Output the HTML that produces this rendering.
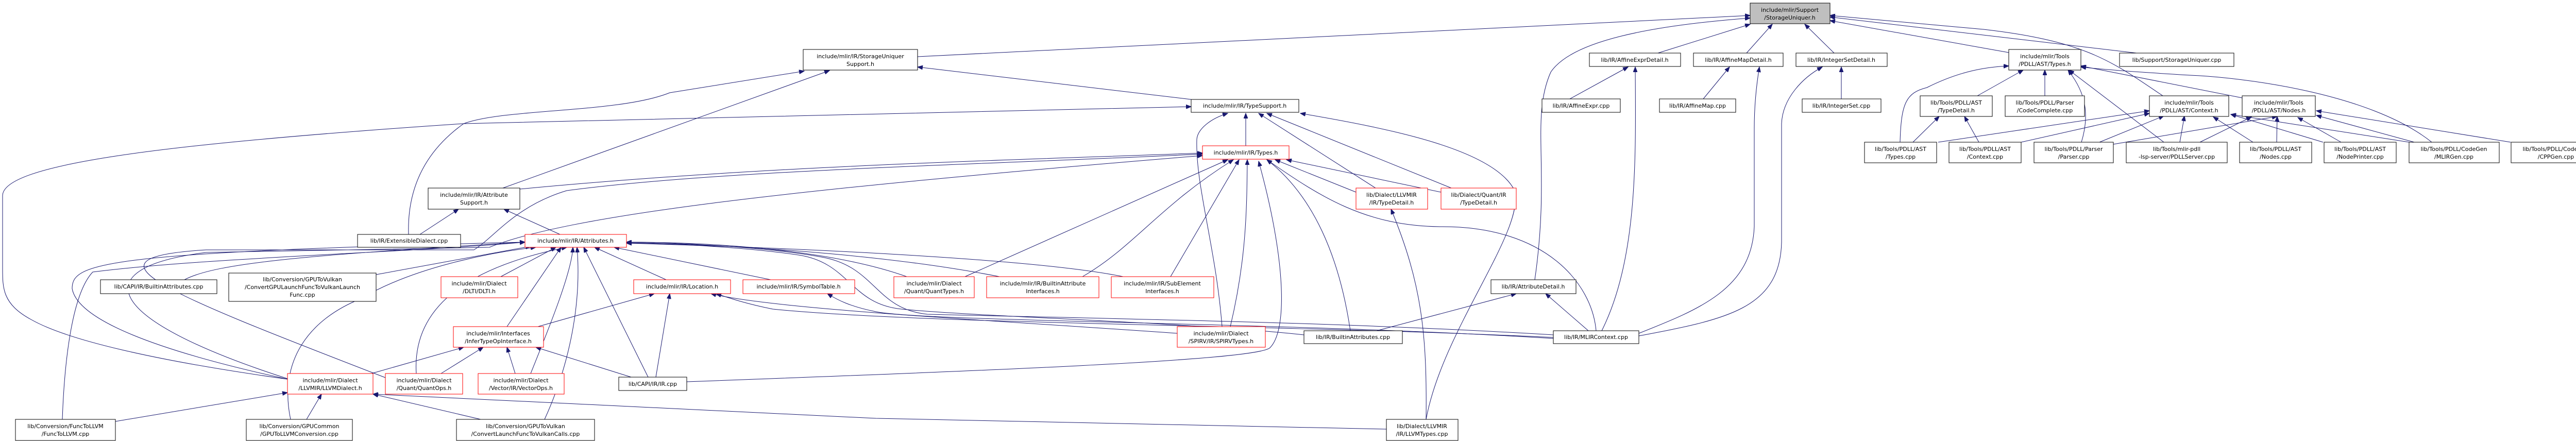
<!DOCTYPE html>
<html><head><meta charset="utf-8"><style>
html,body{margin:0;padding:0;background:#fff;}
svg{display:block;}
text{font-family:"DejaVu Sans","Liberation Sans",sans-serif;font-size:11px;fill:#000;text-anchor:middle;}
.n{fill:#fff;stroke:#000;stroke-width:1;}
.r{fill:#fff;stroke:#ff0000;stroke-width:1;}
.e{fill:none;stroke:#191970;stroke-width:1;marker-end:url(#a);}
</style></head><body>
<svg width="5054" height="856" viewBox="0 0 5054 856" xmlns="http://www.w3.org/2000/svg">
<defs><marker id="a" markerUnits="userSpaceOnUse" markerWidth="11" markerHeight="8" refX="10" refY="4" orient="auto"><path d="M0,0 L10,4 L0,8 z" fill="#191970" stroke="#191970"/></marker></defs>
<g>
<path class="e" d="M1781,110 L3397,30"/>
<path class="e" d="M2979,543 C3010,330 2970,230 3010,140 C3050,80 3200,50 3397,35"/>
<path class="e" d="M3218,103 L3397,47"/>
<path class="e" d="M3390,103 L3440,47"/>
<path class="e" d="M3560,103 L3503,47"/>
<path class="e" d="M3899,102 L3552,40"/>
<path class="e" d="M4147,103 L3552,33"/>
<path class="e" d="M4198,186 C4100,120 4050,80 3850,57 L3552,30"/>
<path class="e" d="M3047,192 L3160,130"/>
<path class="e" d="M3109,642 C3180,500 3175,300 3174,130"/>
<path class="e" d="M3306,192 L3357,130"/>
<path class="e" d="M3181,647 C3300,600 3400,560 3405,440 L3405,250 C3405,200 3410,160 3415,130"/>
<path class="e" d="M3574,192 L3574,130"/>
<path class="e" d="M3181,652 C3350,620 3455,600 3458,470 L3458,240 C3460,190 3500,150 3537,130"/>
<path class="e" d="M793,455 C790,360 830,290 900,240 C980,210 1200,220 1300,180 L1561,138"/>
<path class="e" d="M976,365 L1610,137"/>
<path class="e" d="M2312,193 L1781,130"/>
<path class="e" d="M558,736 C300,700 130,660 60,620 C5,590 5,560 5,520 L5,380 C5,320 300,280 900,240 L2312,207"/>
<path class="e" d="M2418,283 L2418,220"/>
<path class="e" d="M2372,634 C2360,480 2320,360 2323,270 C2325,250 2350,230 2383,220"/>
<path class="e" d="M2670,365 L2443,220"/>
<path class="e" d="M2817,365 L2459,220"/>
<path class="e" d="M2768,814 C2800,640 2960,450 2940,370 C2900,290 2700,250 2524,220"/>
<path class="e" d="M1009,367 C1500,320 2000,310 2334,297"/>
<path class="e" d="M748,733 C300,560 150,500 400,485 L920,485 C960,460 1000,400 1100,370 C1400,330 1900,320 2334,299"/>
<path class="e" d="M558,735 C200,620 160,520 400,490 L950,480 C1100,420 1500,370 2334,302"/>
<path class="e" d="M1873,537 L2383,310"/>
<path class="e" d="M2101,537 C2200,480 2250,400 2394,310"/>
<path class="e" d="M2272,537 L2405,310"/>
<path class="e" d="M2388,634 C2420,500 2420,400 2421,310"/>
<path class="e" d="M1333,741 C1900,720 2440,700 2465,675 C2500,640 2495,500 2443,313"/>
<path class="e" d="M2621,642 C2600,500 2550,380 2459,310"/>
<path class="e" d="M2632,373 L2475,310"/>
<path class="e" d="M2797,373 L2497,310"/>
<path class="e" d="M3098,642 C3090,550 3000,440 2800,440 C2650,440 2560,380 2459,310"/>
<path class="e" d="M815,455 L890,406"/>
<path class="e" d="M1087,455 L978,406"/>
<path class="e" d="M358,543 C420,510 600,495 1019,470"/>
<path class="e" d="M730,533 L1030,478"/>
<path class="e" d="M972,537 L1079,480"/>
<path class="e" d="M984,634 L1089,480"/>
<path class="e" d="M1030,725 C1060,650 1110,530 1112,480"/>
<path class="e" d="M808,725 C800,600 900,520 1100,480"/>
<path class="e" d="M1258,732 L1133,480"/>
<path class="e" d="M1293,543 L1154,480"/>
<path class="e" d="M1496,543 L1192,480"/>
<path class="e" d="M558,736 C300,680 150,620 140,560 C140,510 200,490 1019,470"/>
<path class="e" d="M121,814 C125,700 140,570 180,528 C400,500 800,490 1019,470"/>
<path class="e" d="M564,814 C540,700 600,620 700,580 C800,520 950,490 1040,480"/>
<path class="e" d="M1057,814 C1100,720 1130,600 1120,480"/>
<path class="e" d="M1760,537 C1600,480 1350,470 1216,470"/>
<path class="e" d="M1940,537 C1700,490 1400,475 1216,471"/>
<path class="e" d="M2180,537 C2000,500 1500,480 1216,472"/>
<path class="e" d="M3015,650 C2600,625 2200,620 1800,610 C1700,600 1700,520 1600,500 C1500,480 1300,470 1216,470"/>
<path class="e" d="M2531,650 C2300,625 1900,615 1750,600 C1650,590 1650,510 1550,495 C1450,480 1300,472 1216,472"/>
<path class="e" d="M2285,647 C1900,620 1500,600 1380,570"/>
<path class="e" d="M3015,655 C2500,630 1800,630 1500,600 C1450,590 1420,580 1390,570"/>
<path class="e" d="M3015,657 C2500,625 1800,625 1700,605 C1650,595 1625,582 1606,570"/>
<path class="e" d="M1044,634 L1270,570"/>
<path class="e" d="M1273,732 L1300,570"/>
<path class="e" d="M721,725 L900,674"/>
<path class="e" d="M856,725 L938,674"/>
<path class="e" d="M1000,725 L984,674"/>
<path class="e" d="M1225,732 L1040,674"/>
<path class="e" d="M224,818 L558,762"/>
<path class="e" d="M595,814 L624,765"/>
<path class="e" d="M933,814 L724,765"/>
<path class="e" d="M2691,833 L1700,812 L724,765"/>
<path class="e" d="M2768,814 C2770,650 2760,550 2700,406"/>
<path class="e" d="M2672,642 L2943,570"/>
<path class="e" d="M3083,642 L3000,570"/>
<path class="e" d="M3688,276 C3690,200 3700,180 3740,170 C3800,140 3850,130 3899,128"/>
<path class="e" d="M3838,186 L3927,136"/>
<path class="e" d="M3969,186 L3969,136"/>
<path class="e" d="M4040,276 C4060,210 4040,170 4014,136"/>
<path class="e" d="M4200,276 L4016,136"/>
<path class="e" d="M4352,190 L4039,128"/>
<path class="e" d="M4720,276 C4600,180 4350,150 4250,146 C4150,140 4080,135 4039,130"/>
<path class="e" d="M3762,276 L4172,215"/>
<path class="e" d="M3923,276 L4172,220"/>
<path class="e" d="M4075,276 L4200,225"/>
<path class="e" d="M4231,276 L4240,225"/>
<path class="e" d="M4373,276 L4296,227"/>
<path class="e" d="M4509,276 L4330,222"/>
<path class="e" d="M4676,276 L4330,222"/>
<path class="e" d="M4102,280 L4420,226"/>
<path class="e" d="M4270,276 L4370,227"/>
<path class="e" d="M4419,276 L4420,226"/>
<path class="e" d="M4544,276 L4460,228"/>
<path class="e" d="M4686,276 L4496,224"/>
<path class="e" d="M4873,276 L4496,215"/>
<path class="e" d="M3713,276 L3764,226"/>
<path class="e" d="M3841,276 L3813,226"/>
</g>
<g>
<rect x="3397" y="6" width="155" height="40" fill="#bfbfbf" stroke="#000"/><text x="3474" y="23">include/mlir/Support</text><text x="3474" y="38">/StorageUniquer.h</text>
<rect class="n" x="1559" y="96" width="222" height="40"/><text x="1670" y="113">include/mlir/IR/StorageUniquer</text><text x="1670" y="128">Support.h</text>
<rect class="n" x="831" y="365" width="178" height="41"/><text x="920" y="382">include/mlir/IR/Attribute</text><text x="920" y="397">Support.h</text>
<rect class="n" x="694" y="455" width="200" height="25"/><text x="794" y="471">lib/IR/ExtensibleDialect.cpp</text>
<rect class="r" x="1019" y="455" width="197" height="25"/><text x="1117" y="471">include/mlir/IR/Attributes.h</text>
<rect class="n" x="195" y="543" width="226" height="27"/><text x="308" y="560">lib/CAPI/IR/BuiltinAttributes.cpp</text>
<rect class="n" x="444" y="530" width="286" height="55"/><text x="587" y="546">lib/Conversion/GPUToVulkan</text><text x="587" y="561">/ConvertGPULaunchFuncToVulkanLaunch</text><text x="587" y="576">Func.cpp</text>
<rect class="r" x="856" y="537" width="149" height="41"/><text x="930" y="554">include/mlir/Dialect</text><text x="930" y="569">/DLTI/DLTI.h</text>
<rect class="r" x="1230" y="543" width="188" height="27"/><text x="1324" y="560">include/mlir/IR/Location.h</text>
<rect class="r" x="1442" y="543" width="217" height="27"/><text x="1550" y="560">include/mlir/IR/SymbolTable.h</text>
<rect class="r" x="880" y="634" width="175" height="40"/><text x="967" y="651">include/mlir/Interfaces</text><text x="967" y="666">/InferTypeOpInterface.h</text>
<rect class="r" x="558" y="725" width="166" height="40"/><text x="641" y="742">include/mlir/Dialect</text><text x="641" y="757">/LLVMIR/LLVMDialect.h</text>
<rect class="r" x="748" y="725" width="150" height="40"/><text x="823" y="742">include/mlir/Dialect</text><text x="823" y="757">/Quant/QuantOps.h</text>
<rect class="r" x="928" y="725" width="167" height="40"/><text x="1011" y="742">include/mlir/Dialect</text><text x="1011" y="757">/Vector/IR/VectorOps.h</text>
<rect class="n" x="1201" y="732" width="132" height="26"/><text x="1267" y="749">lib/CAPI/IR/IR.cpp</text>
<rect class="n" x="30" y="814" width="194" height="41"/><text x="127" y="831">lib/Conversion/FuncToLLVM</text><text x="127" y="846">/FuncToLLVM.cpp</text>
<rect class="n" x="478" y="814" width="206" height="41"/><text x="581" y="831">lib/Conversion/GPUCommon</text><text x="581" y="846">/GPUToLLVMConversion.cpp</text>
<rect class="n" x="886" y="814" width="268" height="41"/><text x="1020" y="831">lib/Conversion/GPUToVulkan</text><text x="1020" y="846">/ConvertLaunchFuncToVulkanCalls.cpp</text>
<rect class="n" x="2312" y="193" width="209" height="25"/><text x="2416" y="209">include/mlir/IR/TypeSupport.h</text>
<rect class="r" x="2334" y="283" width="168" height="26"/><text x="2418" y="300">include/mlir/IR/Types.h</text>
<rect class="r" x="2632" y="365" width="139" height="41"/><text x="2701" y="382">lib/Dialect/LLVMIR</text><text x="2701" y="397">/IR/TypeDetail.h</text>
<rect class="r" x="2797" y="365" width="146" height="41"/><text x="2870" y="382">lib/Dialect/Quant/IR</text><text x="2870" y="397">/TypeDetail.h</text>
<rect class="r" x="1735" y="537" width="156" height="41"/><text x="1813" y="554">include/mlir/Dialect</text><text x="1813" y="569">/Quant/QuantTypes.h</text>
<rect class="r" x="1915" y="537" width="218" height="41"/><text x="2024" y="554">include/mlir/IR/BuiltinAttribute</text><text x="2024" y="569">Interfaces.h</text>
<rect class="r" x="2157" y="537" width="199" height="41"/><text x="2256" y="554">include/mlir/IR/SubElement</text><text x="2256" y="569">Interfaces.h</text>
<rect class="r" x="2285" y="634" width="171" height="40"/><text x="2370" y="651">include/mlir/Dialect</text><text x="2370" y="666">/SPIRV/IR/SPIRVTypes.h</text>
<rect class="n" x="2531" y="642" width="191" height="25"/><text x="2626" y="658">lib/IR/BuiltinAttributes.cpp</text>
<rect class="n" x="2894" y="543" width="165" height="27"/><text x="2976" y="560">lib/IR/AttributeDetail.h</text>
<rect class="n" x="3015" y="642" width="166" height="25"/><text x="3098" y="658">lib/IR/MLIRContext.cpp</text>
<rect class="n" x="2691" y="814" width="139" height="41"/><text x="2760" y="831">lib/Dialect/LLVMIR</text><text x="2760" y="846">/IR/LLVMTypes.cpp</text>
<rect class="n" x="3085" y="103" width="177" height="26"/><text x="3173" y="120">lib/IR/AffineExprDetail.h</text>
<rect class="n" x="3287" y="103" width="174" height="26"/><text x="3374" y="120">lib/IR/AffineMapDetail.h</text>
<rect class="n" x="2993" y="192" width="152" height="26"/><text x="3069" y="209">lib/IR/AffineExpr.cpp</text>
<rect class="n" x="3221" y="192" width="148" height="26"/><text x="3295" y="209">lib/IR/AffineMap.cpp</text>
<rect class="n" x="3486" y="103" width="177" height="26"/><text x="3574" y="120">lib/IR/IntegerSetDetail.h</text>
<rect class="n" x="3498" y="192" width="153" height="26"/><text x="3574" y="209">lib/IR/IntegerSet.cpp</text>
<rect class="n" x="3899" y="96" width="140" height="40"/><text x="3969" y="113">include/mlir/Tools</text><text x="3969" y="128">/PDLL/AST/Types.h</text>
<rect class="n" x="4114" y="103" width="222" height="26"/><text x="4225" y="120">lib/Support/StorageUniquer.cpp</text>
<rect class="n" x="3727" y="186" width="140" height="40"/><text x="3797" y="203">lib/Tools/PDLL/AST</text><text x="3797" y="218">/TypeDetail.h</text>
<rect class="n" x="3892" y="186" width="154" height="40"/><text x="3969" y="203">lib/Tools/PDLL/Parser</text><text x="3969" y="218">/CodeComplete.cpp</text>
<rect class="n" x="4172" y="186" width="154" height="40"/><text x="4249" y="203">include/mlir/Tools</text><text x="4249" y="218">/PDLL/AST/Context.h</text>
<rect class="n" x="4352" y="186" width="142" height="40"/><text x="4423" y="203">include/mlir/Tools</text><text x="4423" y="218">/PDLL/AST/Nodes.h</text>
<rect class="n" x="3619" y="276" width="140" height="40"/><text x="3689" y="293">lib/Tools/PDLL/AST</text><text x="3689" y="308">/Types.cpp</text>
<rect class="n" x="3783" y="276" width="140" height="40"/><text x="3853" y="293">lib/Tools/PDLL/AST</text><text x="3853" y="308">/Context.cpp</text>
<rect class="n" x="3948" y="276" width="154" height="40"/><text x="4025" y="293">lib/Tools/PDLL/Parser</text><text x="4025" y="308">/Parser.cpp</text>
<rect class="n" x="4127" y="276" width="196" height="40"/><text x="4225" y="293">lib/Tools/mlir-pdll</text><text x="4225" y="308">-lsp-server/PDLLServer.cpp</text>
<rect class="n" x="4347" y="276" width="140" height="40"/><text x="4417" y="293">lib/Tools/PDLL/AST</text><text x="4417" y="308">/Nodes.cpp</text>
<rect class="n" x="4511" y="276" width="140" height="40"/><text x="4581" y="293">lib/Tools/PDLL/AST</text><text x="4581" y="308">/NodePrinter.cpp</text>
<rect class="n" x="4676" y="276" width="175" height="40"/><text x="4763" y="293">lib/Tools/PDLL/CodeGen</text><text x="4763" y="308">/MLIRGen.cpp</text>
<rect class="n" x="4874" y="276" width="175" height="40"/><text x="4961" y="293">lib/Tools/PDLL/CodeGen</text><text x="4961" y="308">/CPPGen.cpp</text>
</g>
</svg>
</body></html>
